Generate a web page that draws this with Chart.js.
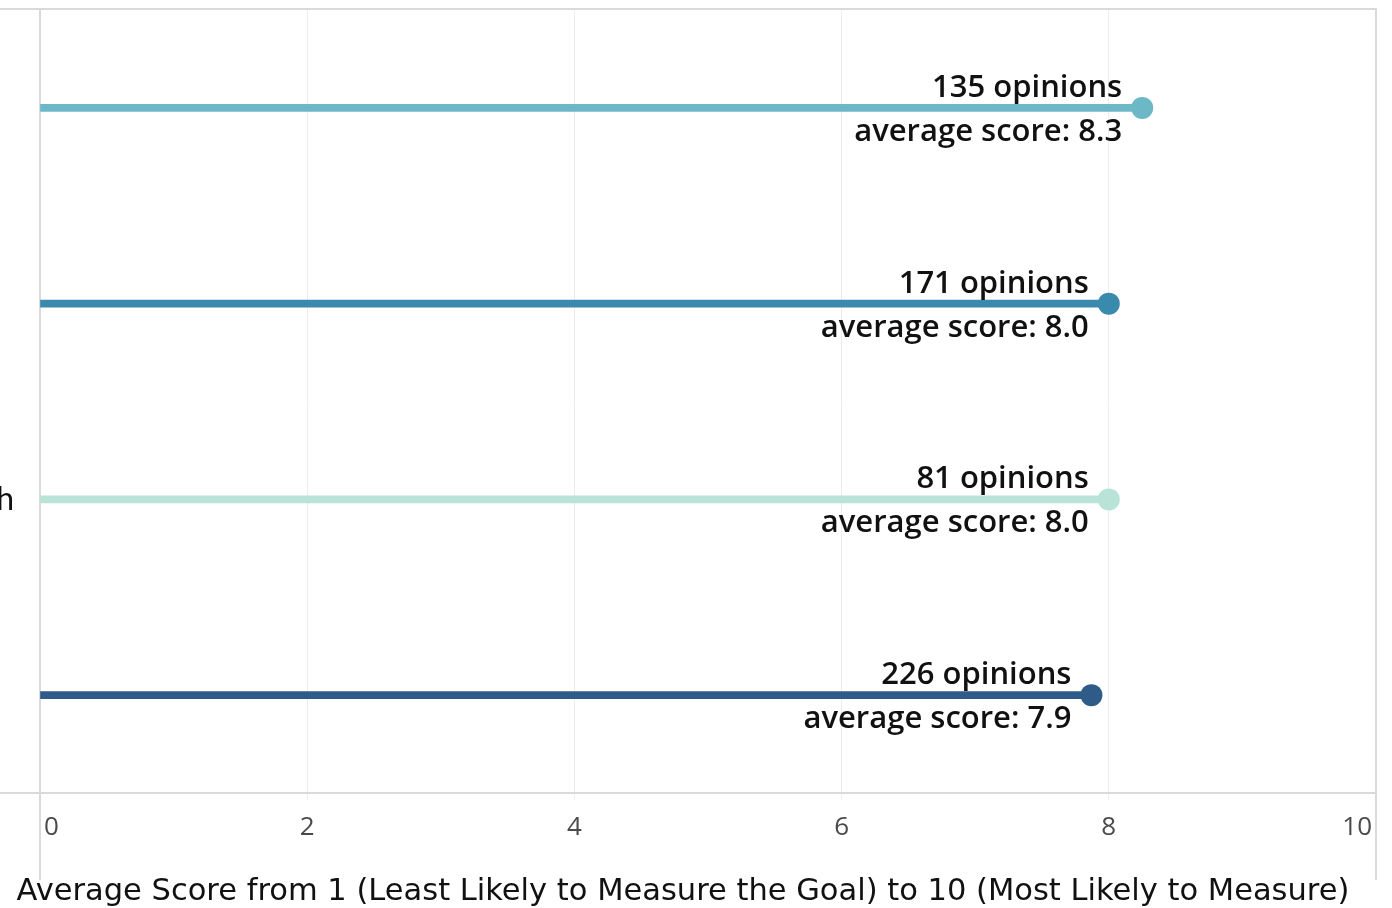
<!DOCTYPE html>
<html>
<head>
<meta charset="utf-8">
<script src="https://cdn.jsdelivr.net/npm/chart.js@4"></script>
<style>
  html, body { margin: 0; padding: 0; background: #fff; }
  #wrap { width: 1392px; height: 908px; }
</style>
</head>
<body>
<div id="wrap"><canvas id="scoreChart" width="1392" height="908"></canvas></div>
<script>
// categories (labels are cut off in the source, only the last letter of one shows)
const categories = ['', '', 'h', ''];
const avgScores = [8.25, 8.0, 8.0, 7.87];
const avgScoreText = ['8.3', '8.0', '8.0', '7.9'];
const opinions = [135, 171, 81, 226];
const rowColors = ['#6db8c6', '#3a8aad', '#b9e3d7', '#2f5b88'];
const xTicks = [0, 2, 4, 6, 8, 10];
const axisTitle = 'Average Score from 1 (Least Likely to Measure the Goal) to 10 (Most Likely to Measure)';

// frame lines, x tick labels, axis title and the two-line data labels
const decorations = {
    id: 'decorations',
    beforeDatasetsDraw(chart) {
        const { ctx, chartArea: a } = chart;
        ctx.save();
        ctx.strokeStyle = '#dadada';
        ctx.lineWidth = 2;
        ctx.beginPath();
        ctx.moveTo(0, a.top - 1); ctx.lineTo(a.right + 1, a.top - 1);   // top border
        ctx.moveTo(a.right, a.top - 1); ctx.lineTo(a.right, 880);      // right border
        ctx.moveTo(0, a.bottom); ctx.lineTo(a.right, a.bottom);        // axis line
        ctx.moveTo(a.left, a.top); ctx.lineTo(a.left, 880);            // zero line
        ctx.stroke();
        ctx.restore();
    },
    afterDatasetsDraw(chart) {
        const { ctx, scales } = chart;
        const x = scales.x;
        ctx.save();

        // x tick labels, clamped at the ends like the original
        ctx.font = '26px "Open Sans", "DejaVu Sans", sans-serif';
        ctx.fillStyle = '#4a4a4a';
        ctx.textBaseline = 'alphabetic';
        xTicks.forEach((t, i) => {
            const px = x.getPixelForValue(t);
            if (i === 0) { ctx.textAlign = 'left'; ctx.fillText(String(t), px + 4, 835); }
            else if (i === xTicks.length - 1) { ctx.textAlign = 'right'; ctx.fillText(String(t), px - 4, 835); }
            else { ctx.textAlign = 'center'; ctx.fillText(String(t), px, 835); }
        });

        // axis title
        ctx.font = '30.5px "DejaVu Sans", sans-serif';
        ctx.fillStyle = '#111';
        ctx.textAlign = 'center';
        ctx.fillText(axisTitle, 683, 900);

        // data labels
        ctx.font = '600 31px "Open Sans", Lato, sans-serif';
        ctx.fillStyle = '#111';
        ctx.textAlign = 'right';
        const dots = chart.getDatasetMeta(1).data;
        dots.forEach((pt, i) => {
            const lx = pt.x - 20;
            ctx.fillText(opinions[i] + ' opinions', lx, pt.y - 11);
            ctx.fillText('average score: ' + avgScoreText[i], lx, pt.y + 33);
        });
        ctx.restore();
    }
};

new Chart(document.getElementById('scoreChart'), {
    type: 'bar',
    data: {
        labels: categories,
        datasets: [{
            type: 'bar',
            data: avgScores,
            backgroundColor: rowColors,
            barThickness: 7,
            borderWidth: 0
        }, {
            type: 'line',
            indexAxis: 'y',
            data: avgScores,
            showLine: false,
            clip: false,
            pointRadius: 11,
            pointHoverRadius: 11,
            pointBorderWidth: 0,
            pointBackgroundColor: rowColors,
            backgroundColor: rowColors
        }]
    },
    options: {
        indexAxis: 'y',
        responsive: false,
        animation: false,
        layout: { autoPadding: false, padding: { top: 10, right: 16, left: 0, bottom: 0 } },
        plugins: {
            legend: { display: false },
            tooltip: { enabled: false }
        },
        scales: {
            x: {
                type: 'linear',
                min: 0,
                max: 10,
                afterBuildTicks: (s) => { s.ticks = xTicks.map(v => ({ value: v })); },
                afterFit: (s) => { s.height = 115; s.paddingLeft = 0; s.paddingRight = 0; },
                ticks: { display: false },
                border: { display: false },
                grid: {
                    color: (c) => (c.index === 0 || c.index === xTicks.length - 1) ? 'rgba(0,0,0,0)' : '#ececec',
                    lineWidth: 1,
                    drawTicks: true,
                    tickLength: 7
                }
            },
            y: {
                afterFit: (s) => { s.width = 40; s.paddingTop = 0; s.paddingBottom = 0; },
                border: { display: false },
                grid: { display: false, drawTicks: false },
                ticks: {
                    padding: 26,
                    color: '#111',
                    font: { size: 32, family: 'Lato, "Open Sans", sans-serif' }
                }
            }
        }
    },
    plugins: [decorations]
});
</script>
</body>
</html>
